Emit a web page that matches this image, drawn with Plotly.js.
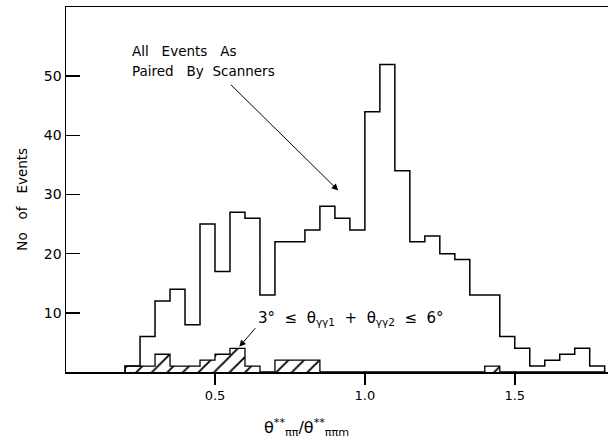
<!DOCTYPE html>
<html>
<head>
<meta charset="utf-8">
<script src="https://cdn.plot.ly/plotly-3.0.1.min.js"></script>
<style>html,body{margin:0;padding:0;background:#fff;}#chart{width:608px;height:448px;}</style>
</head>
<body>
<div id="chart"></div>
<script>
// Bin left edges (bin width 0.05)
var binStarts = [0.20, 0.25, 0.30, 0.35, 0.40, 0.45, 0.50, 0.55, 0.60, 0.65,
                 0.70, 0.75, 0.80, 0.85, 0.90, 0.95, 1.00, 1.05, 1.10, 1.15,
                 1.20, 1.25, 1.30, 1.35, 1.40, 1.45, 1.50, 1.55, 1.60, 1.65,
                 1.70, 1.75];
// All events as paired by scanners
var allEvents = [1, 6, 12, 14, 8, 25, 17, 27, 26, 13,
                 22, 22, 24, 28, 26, 24, 44, 52, 34, 22,
                 23, 20, 19, 13, 13, 6, 4, 1, 2, 3,
                 4, 1];
// 3° <= θγγ1 + θγγ2 <= 6° (hatched)
var cutEvents = [1, 1, 3, 1, 1, 2, 3, 4, 1, 0,
                 2, 2, 2, 0, 0, 0, 0, 0, 0, 0,
                 0, 0, 0, 0, 1, 0, 0, 0, 0, 0,
                 0, 0];
var xTickVals = [0.5, 1.0, 1.5];
var xTickText = ['0.5', '1.0', '1.5'];
var yTickVals = [10, 20, 30, 40, 50];
var yTickText = ['10', '20', '30', '40', '50'];

function stepArrays(starts, counts) {
  var w = starts[1] - starts[0];
  var xs = [starts[0]], ys = [0];
  for (var i = 0; i < starts.length; i++) { xs.push(starts[i]); ys.push(counts[i]); }
  xs.push(starts[starts.length - 1] + w); ys.push(0);
  return {x: xs, y: ys};
}
var sAll = stepArrays(binStarts, allEvents);
var sCut = stepArrays(binStarts, cutEvents);

var FONT = 'DejaVu Sans, Arial, sans-serif';
var SP = '\u00A0\u00A0\u00A0';
var SP2 = '\u00A0\u00A0';

var traces = [
  {
    type: 'scatter', mode: 'lines', name: '3° ≤ θγγ1 + θγγ2 ≤ 6°',
    x: sCut.x, y: sCut.y,
    line: {shape: 'hv', color: '#000', width: 1.3},
    fill: 'tozeroy', fillcolor: '#fff',
    fillpattern: {shape: '/', fgcolor: '#000', bgcolor: '#fff', size: 11, solidity: 0.17},
    hoverinfo: 'skip'
  },
  {
    type: 'scatter', mode: 'lines', name: 'All Events As Paired By Scanners',
    x: sAll.x, y: sAll.y,
    line: {shape: 'hv', color: '#000', width: 1.5},
    hoverinfo: 'skip'
  }
];

var layout = {
  width: 608, height: 448,
  margin: {l: 66, r: 0, t: 7, b: 76},
  paper_bgcolor: '#fff', plot_bgcolor: '#fff',
  showlegend: false,
  font: {family: FONT, color: '#000'},
  xaxis: {
    range: [0.003, 1.811], showgrid: false, zeroline: false,
    showline: true, linecolor: '#000', linewidth: 1.5, mirror: true,
    ticks: 'outside', ticklen: 11, tickwidth: 1.5, tickcolor: '#000',
    tickvals: xTickVals, ticktext: xTickText,
    tickfont: {family: FONT, size: 13, color: '#000'}
  },
  yaxis: {
    range: [0, 61.7], showgrid: false, zeroline: false,
    showline: true, linecolor: '#000', linewidth: 1.5,
    ticks: 'inside', ticklen: 14, tickwidth: 1.5, tickcolor: '#000',
    tickvals: yTickVals, ticktext: yTickText,
    tickfont: {family: FONT, size: 14, color: '#000'}
  },
  annotations: [
    {xref: 'x', yref: 'y', x: 0.215, y: 54.3, xanchor: 'left', yanchor: 'middle',
     text: 'All' + SP + 'Events' + SP + 'As', showarrow: false, font: {family: FONT, size: 13.5}},
    {xref: 'x', yref: 'y', x: 0.215, y: 50.9, xanchor: 'left', yanchor: 'middle',
     text: 'Paired' + SP + 'By' + SP2 + 'Scanners', showarrow: false, font: {family: FONT, size: 13.5}},
    {xref: 'x', yref: 'y', x: 0.911, y: 30.7, axref: 'x', ayref: 'y', ax: 0.548, ay: 48.8,
     text: '', showarrow: true, arrowhead: 2, arrowsize: 1.3, arrowwidth: 1, arrowcolor: '#000'},
    {xref: 'x', yref: 'y', x: 0.637, y: 9.0, xanchor: 'left', yanchor: 'middle',
     text: '3°' + SP2 + '≤' + SP2 + 'θ<sub>γγ1</sub>' + SP2 + '+' + SP2 + 'θ<sub>γγ2</sub>' + SP2 + '≤' + SP2 + '6°',
     showarrow: false, font: {family: FONT, size: 15}},
    {xref: 'x', yref: 'y', x: 0.581, y: 4.27, axref: 'x', ayref: 'y', ax: 0.639, ay: 7.65,
     text: '', showarrow: true, arrowhead: 2, arrowsize: 1.3, arrowwidth: 1, arrowcolor: '#000'},
    {xref: 'paper', yref: 'paper', x: -0.0817, y: 0.474, xanchor: 'center', yanchor: 'middle',
     text: 'No' + SP + 'of' + SP + 'Events', textangle: -90, showarrow: false, font: {family: FONT, size: 13.5}},
    {xref: 'x', yref: 'paper', x: 0.806, y: -0.153, xanchor: 'center', yanchor: 'middle',
     text: 'θ<sup>**</sup><sub>ππ</sub>/θ<sup>**</sup><sub>ππm</sub>', showarrow: false,
     font: {family: FONT, size: 16}}
  ]
};

Plotly.newPlot('chart', traces, layout, {displayModeBar: false, staticPlot: true});
</script>
</body>
</html>
